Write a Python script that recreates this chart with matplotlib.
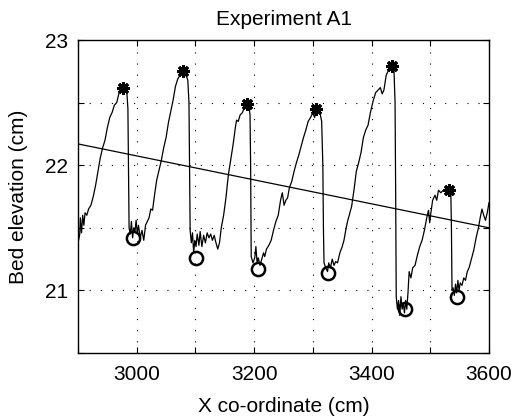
import matplotlib
matplotlib.use("Agg")
import matplotlib.pyplot as plt
from matplotlib.ticker import FixedLocator

# ---- data ----
profile_x = [2900, 2901, 2903, 2904, 2906, 2908, 2910, 2912, 2915, 2918, 2922, 2926, 2930, 2934,
             2938, 2942, 2946, 2950, 2954, 2958, 2962, 2966, 2970, 2974, 2977, 2980, 2983, 2985,
             2986, 2987, 2989, 2991, 2993, 2995, 2997, 2999, 3001, 3003, 3006, 3009, 3012, 3015,
             3018, 3021, 3024, 3027, 3030, 3034, 3038, 3042, 3046, 3050, 3054, 3058, 3062, 3066,
             3070, 3074, 3079, 3083, 3087, 3089, 3090, 3091, 3093, 3095, 3097, 3099, 3101, 3103,
             3106, 3108, 3111, 3114, 3117, 3120, 3123, 3126, 3129, 3132, 3135, 3138, 3141, 3144,
             3148, 3152, 3156, 3160, 3164, 3168, 3170, 3173, 3176, 3180, 3184, 3187, 3191, 3193,
             3194, 3195, 3198, 3201, 3203, 3205, 3207, 3210, 3213, 3216, 3218, 3221, 3225, 3229,
             3233, 3237, 3241, 3245, 3248, 3251, 3254, 3257, 3260, 3264, 3268, 3272, 3276, 3280,
             3284, 3288, 3292, 3296, 3300, 3303, 3305, 3308, 3312, 3315, 3317, 3318, 3319, 3322,
             3325, 3327, 3330, 3333, 3336, 3339, 3342, 3346, 3350, 3353, 3356, 3359, 3363, 3366,
             3370, 3374, 3378, 3382, 3386, 3390, 3394, 3398, 3403, 3407, 3411, 3415, 3418, 3421,
             3425, 3429, 3434, 3438, 3440, 3441, 3442, 3444, 3446, 3448, 3450, 3452, 3454, 3456,
             3458, 3460, 3462, 3464, 3467, 3470, 3474, 3478, 3482, 3486, 3490, 3494, 3497, 3499,
             3501, 3504, 3508, 3511, 3514, 3518, 3522, 3527, 3532, 3535, 3536, 3537, 3539, 3541,
             3543, 3545, 3547, 3549, 3551, 3554, 3557, 3560, 3563, 3566, 3570, 3574, 3578, 3582,
             3585, 3588, 3591, 3594, 3597, 3600]
profile_y = [21.50, 21.40, 21.45, 21.58, 21.46, 21.60, 21.52, 21.62, 21.60, 21.65, 21.68, 21.75, 21.84, 21.95,
             22.06, 22.14, 22.20, 22.30, 22.38, 22.42, 22.48, 22.50, 22.58, 22.60, 22.62, 22.64, 22.60, 22.45,
             22.00, 21.50, 21.45, 21.55, 21.42, 21.50, 21.47, 21.56, 21.45, 21.52, 21.42, 21.48, 21.40, 21.52,
             21.55, 21.58, 21.65, 21.64, 21.75, 21.88, 21.96, 22.04, 22.14, 22.22, 22.34, 22.43, 22.52, 22.63,
             22.69, 22.72, 22.75, 22.73, 22.68, 22.50, 22.00, 21.48, 21.38, 21.46, 21.30, 21.40, 21.35, 21.45,
             21.36, 21.47, 21.35, 21.44, 21.38, 21.46, 21.42, 21.45, 21.40, 21.44, 21.38, 21.33, 21.38, 21.50,
             21.60, 21.74, 21.92, 22.04, 22.16, 22.30, 22.36, 22.35, 22.40, 22.42, 22.47, 22.49, 22.48, 22.40,
             22.00, 21.27, 21.22, 21.26, 21.35, 21.22, 21.26, 21.20, 21.25, 21.30, 21.27, 21.33, 21.36, 21.40,
             21.48, 21.55, 21.60, 21.72, 21.78, 21.68, 21.72, 21.74, 21.82, 21.87, 21.95, 22.02, 22.08, 22.15,
             22.22, 22.28, 22.35, 22.38, 22.42, 22.38, 22.45, 22.44, 22.42, 22.35, 22.00, 21.50, 21.22, 21.18,
             21.15, 21.22, 21.18, 21.25, 21.20, 21.23, 21.22, 21.30, 21.35, 21.40, 21.48, 21.55, 21.62, 21.67,
             21.80, 21.95, 22.02, 22.10, 22.22, 22.28, 22.32, 22.42, 22.52, 22.58, 22.60, 22.62, 22.57, 22.60,
             22.72, 22.76, 22.79, 22.78, 22.50, 21.80, 20.95, 20.85, 20.92, 20.80, 20.95, 20.85, 20.90, 20.82,
             20.92, 20.85, 20.98, 21.15, 21.10, 21.18, 21.20, 21.28, 21.35, 21.40, 21.48, 21.58, 21.64, 21.54,
             21.62, 21.72, 21.76, 21.72, 21.80, 21.78, 21.80, 21.79, 21.80, 21.78, 21.50, 21.00, 21.02, 20.96,
             21.05, 20.98, 21.08, 21.00, 21.06, 21.04, 21.10, 21.08, 21.15, 21.18, 21.25, 21.32, 21.42, 21.50,
             21.58, 21.65, 21.60, 21.56, 21.62, 21.70]

crest_x = [2977, 3079, 3187, 3305, 3434, 3532]
crest_y = [22.62, 22.75, 22.49, 22.45, 22.79, 21.80]
trough_x = [2993, 3101, 3207, 3325, 3457, 3546]
trough_y = [21.42, 21.26, 21.17, 21.14, 20.85, 20.95]
trend_x = [2900, 3600]
trend_y = [22.17, 21.50]

x_major = [3000, 3200, 3400, 3600]
x_all = [2900, 3000, 3100, 3200, 3300, 3400, 3500, 3600]
y_major = [21, 22, 23]
y_all = [20.5, 21, 21.5, 22, 22.5, 23]

plt.rcParams['font.family'] = ['Liberation Sans', 'DejaVu Sans']

fig = plt.figure(figsize=(5.15, 4.17), dpi=100)
ax = fig.add_axes([78/515, 1-353/417, (489-78)/515, (353-40)/417])

ax.plot(profile_x, profile_y, color='black', lw=0.9)
ax.plot(trend_x, trend_y, color='black', lw=0.9)
ax.plot(crest_x, crest_y, linestyle='none', marker=(8, 2, 0), color='black',
        markersize=9, markeredgewidth=2.2)
ax.plot(trough_x, trough_y, linestyle='none', marker='o', markerfacecolor='none',
        markeredgecolor='black', markeredgewidth=1.8, markersize=9.5)

ax.set_xlim(2900, 3600)
ax.set_ylim(20.5, 23)
ax.set_xticks(x_major)
ax.xaxis.set_minor_locator(FixedLocator(x_all))
ax.set_yticks(y_major)
ax.yaxis.set_minor_locator(FixedLocator(y_all))
ax.tick_params(which='both', direction='in', top=True, right=True, length=4, width=0.8,
               labelsize=15)
ax.tick_params(axis='x', pad=9)
ax.tick_params(axis='y', pad=7)

for v in x_all[1:-1]:
    ax.axvline(v, color='black', lw=0.8, linestyle=(0, (1, 9)))
for v in y_all[1:-1]:
    ax.axhline(v, color='black', lw=0.8, linestyle=(0, (1, 9)))

for s in ax.spines.values():
    s.set_linewidth(1.0)

ax.set_xlabel('X co-ordinate (cm)', fontsize=15, labelpad=9)
ax.set_ylabel('Bed elevation (cm)', fontsize=15, labelpad=12)
ax.set_title('Experiment A1', fontsize=15, pad=11)

fig.savefig('out.png', dpi=100)
